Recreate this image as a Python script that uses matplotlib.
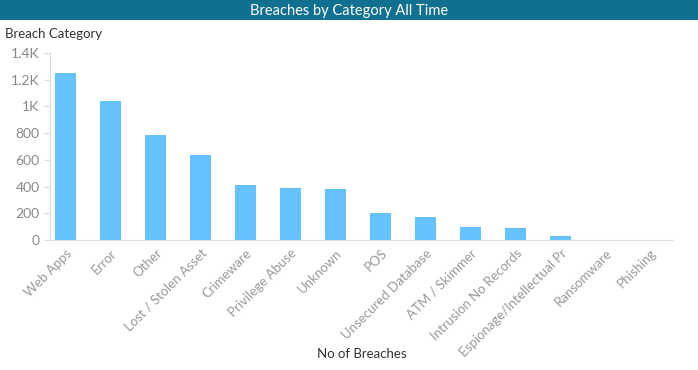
import matplotlib.pyplot as plt
import matplotlib.patches as patches
from matplotlib.ticker import FuncFormatter

categories = ["Web Apps", "Error", "Other", "Lost / Stolen Asset", "Crimeware",
              "Privilege Abuse", "Unknown", "POS", "Unsecured Database",
              "ATM / Skimmer", "Intrusion No Records", "Espionage/Intellectual Pr",
              "Ransomware", "Phishing"]
breaches = [1250, 1040, 786, 636, 412, 390, 382, 202, 172, 97, 90, 30, 0, 0]
yticks = [0, 200, 400, 600, 800, 1000, 1200, 1400]

plt.rcParams['font.family'] = ['Lato', 'DejaVu Sans']

fig = plt.figure(figsize=(6.98, 3.70), dpi=100)
fig.patch.set_facecolor('white')

# title bar
bar = patches.Rectangle((0, 1 - 20 / 370), 1, 20 / 370, transform=fig.transFigure,
                        facecolor='#11708f', edgecolor='none')
fig.patches.append(bar)
fig.text(0.5, 1 - 11 / 370, "Breaches by Category All Time", ha='center', va='center',
         color='white', fontsize=10.5)

ax = fig.add_axes([50 / 698, 1 - 240 / 370, 623 / 698, 187 / 370])
x = range(len(categories))
ax.bar(x, breaches, width=0.47, color='#66c2ff')
ax.set_xlim(-0.35, len(categories) - 0.5)
ax.set_ylim(0, 1400)
ax.set_yticks(yticks)

def kfmt(v, pos):
    if v >= 1000:
        return f"{v / 1000:g}K"
    return f"{v:g}"

ax.yaxis.set_major_formatter(FuncFormatter(kfmt))
ax.set_xticks(list(x))
ax.set_xticklabels(categories, rotation=45, ha='right', rotation_mode='anchor')

for side in ['top', 'right']:
    ax.spines[side].set_visible(False)
for side in ['left', 'bottom']:
    ax.spines[side].set_color('#dddddd')
ax.tick_params(axis='y', colors='#dddddd', labelcolor='#888888', labelsize=10, length=4)
ax.tick_params(axis='x', length=0, labelcolor='#999999', labelsize=9.5, pad=5)

fig.text(5 / 698, 1 - 34 / 370, "Breach Category", ha='left', va='center',
         color='#333333', fontsize=9.5)
fig.text(362 / 698, 1 - 354 / 370, "No of Breaches", ha='center', va='center',
         color='#333333', fontsize=9.5)

fig.savefig("out.png", dpi=100)
